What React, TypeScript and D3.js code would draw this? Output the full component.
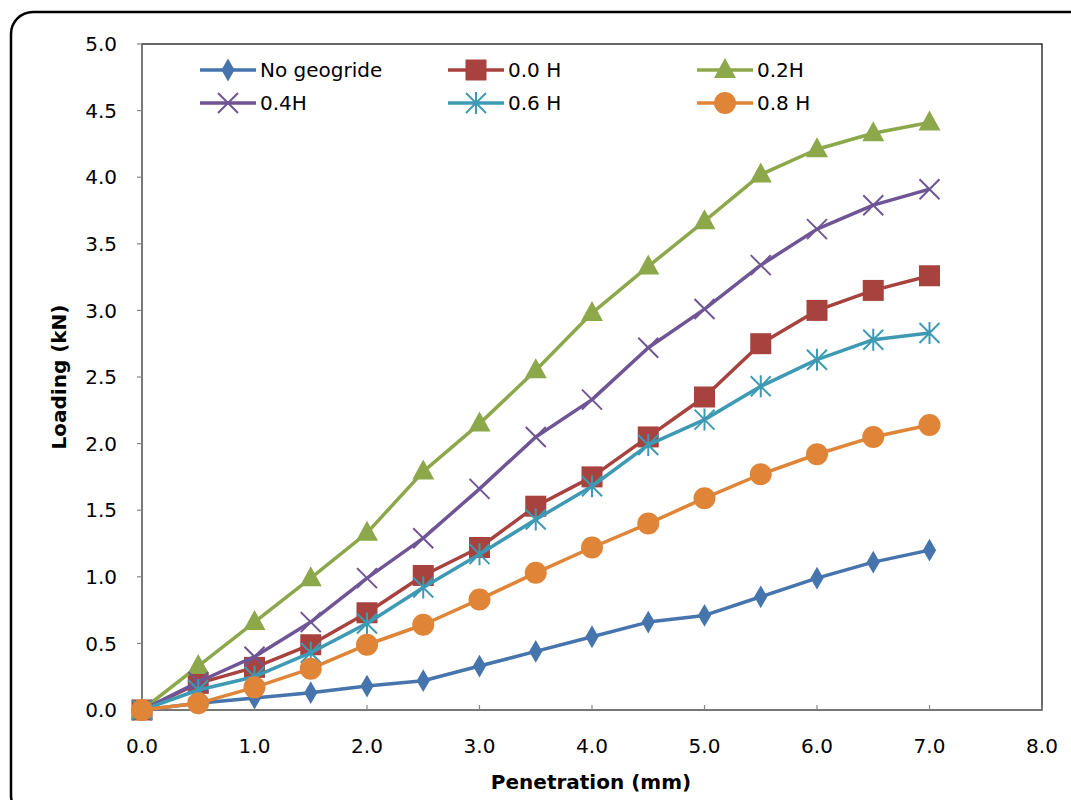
import React from "react";
import * as d3 from "d3";

const penetration = [0, 0.5, 1.0, 1.5, 2.0, 2.5, 3.0, 3.5, 4.0, 4.5, 5.0, 5.5, 6.0, 6.5, 7.0];
const noGeogride = [0, 0.05, 0.09, 0.13, 0.18, 0.22, 0.33, 0.44, 0.55, 0.66, 0.71, 0.85, 0.99, 1.11, 1.2];
const h00 = [0, 0.2, 0.32, 0.49, 0.73, 1.01, 1.22, 1.53, 1.75, 2.05, 2.35, 2.75, 3.0, 3.15, 3.26];
const h02 = [0, 0.33, 0.66, 0.99, 1.33, 1.79, 2.15, 2.55, 2.98, 3.33, 3.67, 4.02, 4.21, 4.33, 4.41];
const h04 = [0, 0.21, 0.4, 0.66, 0.99, 1.29, 1.66, 2.05, 2.33, 2.72, 3.01, 3.34, 3.61, 3.79, 3.91];
const h06 = [0, 0.15, 0.25, 0.43, 0.65, 0.92, 1.17, 1.43, 1.68, 1.99, 2.18, 2.43, 2.63, 2.78, 2.83];
const h08 = [0, 0.05, 0.17, 0.31, 0.49, 0.64, 0.83, 1.03, 1.22, 1.4, 1.59, 1.77, 1.92, 2.05, 2.14];

const seriesNames = ["No geogride", "0.0 H", "0.2H", "0.4H", "0.6 H", "0.8 H"];
const seriesValues = [noGeogride, h00, h02, h04, h06, h08];
const seriesColors = ["#4674AD", "#A8423F", "#8CA84B", "#6F5595", "#3E9AB4", "#E08538"];
const seriesMarkers = ["diamond", "square", "triangle", "x", "asterisk", "circle"];

const xTicks = [0, 1, 2, 3, 4, 5, 6, 7, 8];
const yTicks = [0, 0.5, 1, 1.5, 2, 2.5, 3, 3.5, 4, 4.5, 5];

const W = 1071;
const H = 800;
const plot = { left: 142, top: 44, right: 1042, bottom: 710 };
const FONT = "'DejaVu Sans', sans-serif";

function Marker({ kind, x, y, color }: { kind: string; x: number; y: number; color: string }) {
  switch (kind) {
    case "diamond":
      return <path d={d3.symbol(d3.symbolDiamond, 150)()!} transform={`translate(${x},${y})`} fill={color} />;
    case "square":
      return <rect x={x - 10.5} y={y - 10.5} width={21} height={21} fill={color} />;
    case "triangle":
      return <path d={`M${x},${y - 12}L${x + 11},${y + 8}L${x - 11},${y + 8}Z`} fill={color} />;
    case "x":
      return (
        <path
          d={`M${x - 10},${y - 10}L${x + 10},${y + 10}M${x - 10},${y + 10}L${x + 10},${y - 10}`}
          stroke={color}
          strokeWidth={2}
          fill="none"
        />
      );
    case "asterisk":
      return (
        <path
          d={`M${x - 10},${y - 10}L${x + 10},${y + 10}M${x - 10},${y + 10}L${x + 10},${y - 10}M${x},${y - 11}L${x},${y + 11}`}
          stroke={color}
          strokeWidth={2}
          fill="none"
        />
      );
    case "circle":
      return <circle cx={x} cy={y} r={11} fill={color} />;
  }
  return null;
}

export default function App() {
  const xScale = d3.scaleLinear().domain([0, 8]).range([plot.left, plot.right]);
  const yScale = d3.scaleLinear().domain([0, 5]).range([plot.bottom, plot.top]);
  const line = d3
    .line<number>()
    .x((_, i) => xScale(penetration[i]))
    .y((d) => yScale(d));

  const legendCols = [200, 448, 697];
  const legendRows = [70, 103];

  return (
    <svg width={W} height={H} style={{ position: "absolute", left: 0, top: 0, background: "#fff" }}>
      <rect x={11} y={12} width={1080} height={805} rx={22} ry={22} fill="#fff" stroke="#000" strokeWidth={2.5} />
      <rect
        x={plot.left}
        y={plot.top}
        width={plot.right - plot.left}
        height={plot.bottom - plot.top}
        fill="none"
        stroke="#000"
        strokeWidth={1.2}
      />
      <line x1={plot.left} x2={plot.left} y1={plot.top} y2={plot.bottom} stroke="#868686" strokeWidth={1.2} />
      <line x1={plot.left} x2={plot.right} y1={plot.bottom} y2={plot.bottom} stroke="#868686" strokeWidth={1.2} />
      {yTicks.map((t) => (
        <g key={"y" + t}>
          <line x1={plot.left - 5} x2={plot.left} y1={yScale(t)} y2={yScale(t)} stroke="#868686" strokeWidth={1.2} />
          <text x={117} y={yScale(t)} dy="0.36em" textAnchor="end" fontFamily={FONT} fontSize={20} fill="#000">
            {t.toFixed(1)}
          </text>
        </g>
      ))}
      {xTicks.map((t) => (
        <g key={"x" + t}>
          <line x1={xScale(t)} x2={xScale(t)} y1={plot.bottom} y2={plot.bottom - 5} stroke="#868686" strokeWidth={1.2} />
          <text x={xScale(t)} y={746} dy="0.36em" textAnchor="middle" fontFamily={FONT} fontSize={20} fill="#000">
            {t.toFixed(1)}
          </text>
        </g>
      ))}
      <text x={591} y={782} dy="0.36em" textAnchor="middle" fontFamily={FONT} fontSize={20} fontWeight="bold">
        Penetration (mm)
      </text>
      <text
        transform={`translate(59,${(plot.top + plot.bottom) / 2}) rotate(-90)`}
        dy="0.36em"
        textAnchor="middle"
        fontFamily={FONT}
        fontSize={20}
        fontWeight="bold"
      >
        Loading (kN)
      </text>
      {seriesValues.map((vals, si) => (
        <g key={"s" + si}>
          <path d={line(vals)!} fill="none" stroke={seriesColors[si]} strokeWidth={3.5} strokeLinejoin="round" />
          {vals.map((v, i) => (
            <Marker key={i} kind={seriesMarkers[si]} x={xScale(penetration[i])} y={yScale(v)} color={seriesColors[si]} />
          ))}
        </g>
      ))}
      {seriesNames.map((name, si) => {
        const cx = legendCols[si % 3];
        const cy = legendRows[Math.floor(si / 3)];
        return (
          <g key={"l" + si}>
            <line x1={cx} x2={cx + 56} y1={cy} y2={cy} stroke={seriesColors[si]} strokeWidth={3.5} />
            <Marker kind={seriesMarkers[si]} x={cx + 28} y={cy} color={seriesColors[si]} />
            <text x={cx + 60} y={cy} dy="0.36em" fontFamily={FONT} fontSize={20}>
              {name}
            </text>
          </g>
        );
      })}
    </svg>
  );
}
